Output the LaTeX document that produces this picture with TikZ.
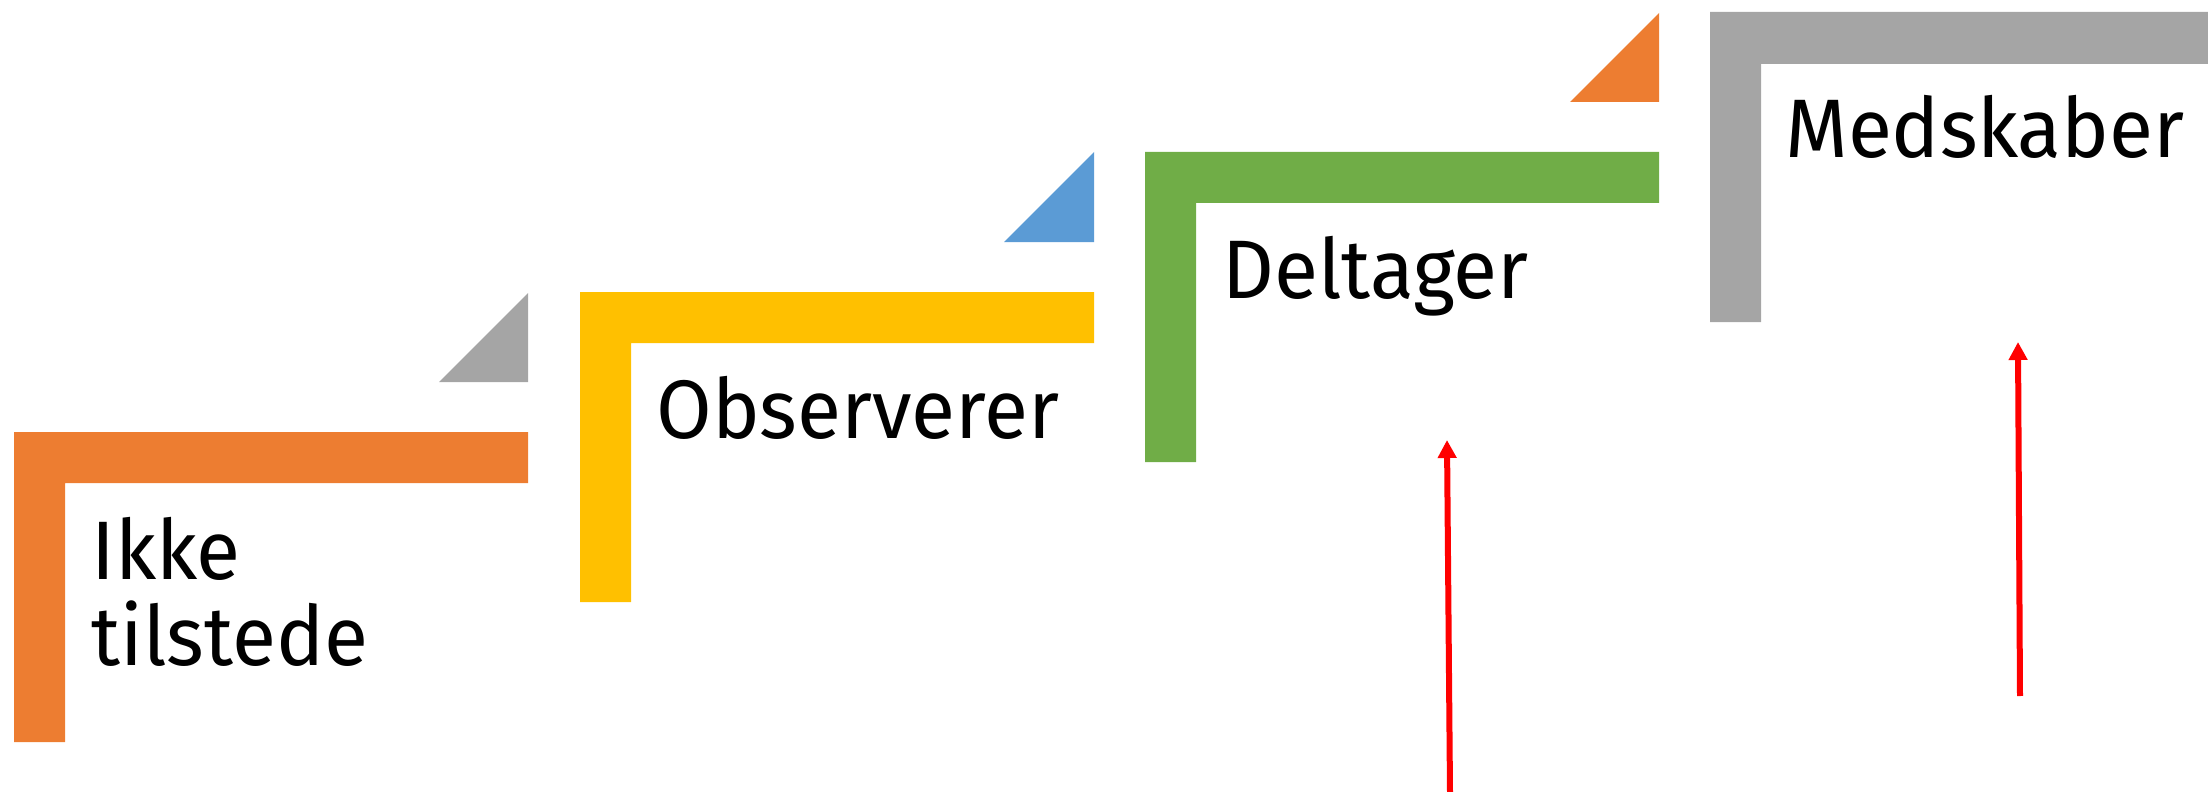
\documentclass[tikz,border=0pt]{standalone}
\usepackage{fontspec}
\setmainfont[FakeStretch=0.97]{Fira Sans}
\usetikzlibrary{arrows.meta}
\definecolor{cOrange}{HTML}{ED7D31}
\definecolor{cYellow}{HTML}{FFC000}
\definecolor{cBlue}{HTML}{5B9BD5}
\definecolor{cGreen}{HTML}{70AD47}
\definecolor{cGray}{HTML}{A5A5A5}
\definecolor{cRed}{HTML}{FF0000}
\tikzset{
  lbl/.style={inner sep=0pt, anchor=base west, text=black, font=\fontsize{41.5}{43}\selectfont},
  redarrow/.style={draw=cRed, line width=3pt, -{Triangle[length=9pt,width=9pt]}}
}
\begin{document}
\begin{tikzpicture}[x=0.5pt,y=-0.5pt]
\useasboundingbox (0,0) rectangle (2208,792);
\begin{scope}
\clip (0,0) rectangle (2208,792);
% step 0: orange L
\fill[cOrange] (14,432) -- (528,432) -- (528,483) -- (65,483) -- (65,742) -- (14,742) -- cycle;
\fill[cGray] (439,382) -- (528,293) -- (528,382) -- cycle;
% step 1: yellow L
\fill[cYellow] (580,292) -- (1094,292) -- (1094,343) -- (631,343) -- (631,602) -- (580,602) -- cycle;
\fill[cBlue] (1004,242) -- (1094,152) -- (1094,242) -- cycle;
% step 2: green L
\fill[cGreen] (1145,152) -- (1659,152) -- (1659,203) -- (1196,203) -- (1196,462) -- (1145,462) -- cycle;
\fill[cOrange] (1570,102) -- (1659,13) -- (1659,102) -- cycle;
% step 3: gray L
\fill[cGray] (1710,12) -- (2240,12) -- (2240,64) -- (1761,64) -- (1761,322) -- (1710,322) -- cycle;
\end{scope}
\node[lbl] (ikke) at (91,579) {Ikke};
\node[lbl] (tilstede) at (91,665) {tilstede};
\node[lbl] (obs) at (656,438) {Observerer};
\node[lbl] (del) at (1222,298) {Deltager};
\node[lbl] (med) at (1785,158) {Medskaber};
\coordinate (a1s) at (1450,792);
\coordinate (a1e) at (1447,440);
\coordinate (a2s) at (2020,696);
\coordinate (a2e) at (2018,342);
\draw[redarrow] (a1s) -- (a1e);
\draw[redarrow] (a2s) -- (a2e);
\end{tikzpicture}
\end{document}
